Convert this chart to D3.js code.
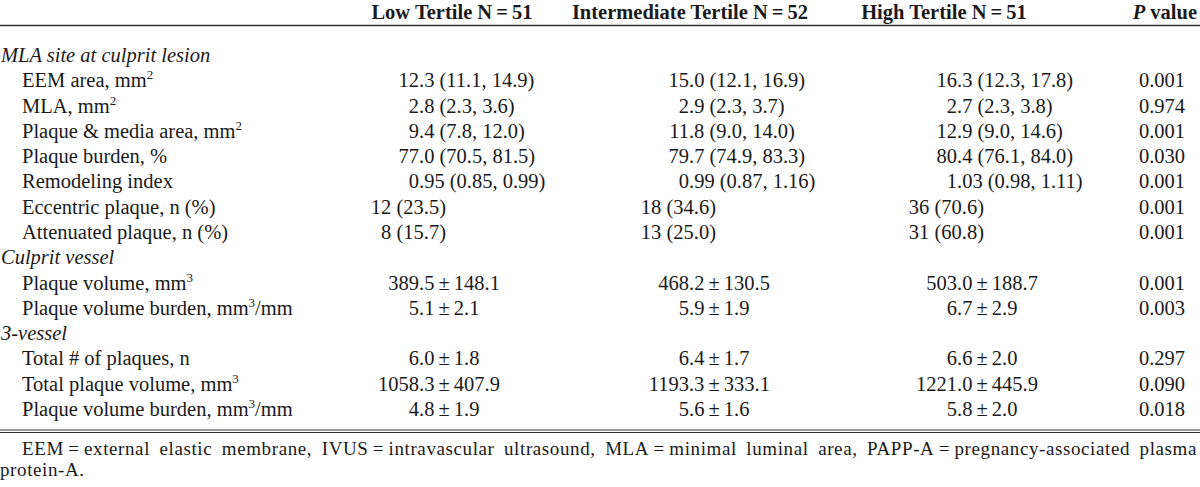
<!DOCTYPE html>
<html>
<head>
<meta charset="utf-8">
<script src="https://cdn.jsdelivr.net/npm/d3@7"></script>
<style>
  html, body { margin: 0; padding: 0; background: #fff; }
  svg { display: block; }
  text { font-family: "Liberation Serif", "Times New Roman", serif; fill: #1a1a1a; }
</style>
</head>
<body>
<div id="table"></div>
<script>
// column headers
const colHeaders = ["Low Tertile N = 51", "Intermediate Tertile N = 52", "High Tertile N = 51"];
const pHeader = "value";

// row labels ("#" prefix = italic section header, ^n = superscript)
const rowLabels = [
  "#MLA site at culprit lesion",
  "EEM area, mm^2",
  "MLA, mm^2",
  "Plaque & media area, mm^2",
  "Plaque burden, %",
  "Remodeling index",
  "Eccentric plaque, n (%)",
  "Attenuated plaque, n (%)",
  "#Culprit vessel",
  "Plaque volume, mm^3",
  "Plaque volume burden, mm^3/mm",
  "#3-vessel",
  "Total # of plaques, n",
  "Total plaque volume, mm^3",
  "Plaque volume burden, mm^3/mm"
];

const lowVals = [null, "12.3 (11.1, 14.9)", "2.8 (2.3, 3.6)", "9.4 (7.8, 12.0)", "77.0 (70.5, 81.5)",
  "0.95 (0.85, 0.99)", "12 (23.5)", "8 (15.7)", null, "389.5 ± 148.1", "5.1 ± 2.1", null,
  "6.0 ± 1.8", "1058.3 ± 407.9", "4.8 ± 1.9"];
const intVals = [null, "15.0 (12.1, 16.9)", "2.9 (2.3, 3.7)", "11.8 (9.0, 14.0)", "79.7 (74.9, 83.3)",
  "0.99 (0.87, 1.16)", "18 (34.6)", "13 (25.0)", null, "468.2 ± 130.5", "5.9 ± 1.9", null,
  "6.4 ± 1.7", "1193.3 ± 333.1", "5.6 ± 1.6"];
const highVals = [null, "16.3 (12.3, 17.8)", "2.7 (2.3, 3.8)", "12.9 (9.0, 14.6)", "80.4 (76.1, 84.0)",
  "1.03 (0.98, 1.11)", "36 (70.6)", "31 (60.8)", null, "503.0 ± 188.7", "6.7 ± 2.9", null,
  "6.6 ± 2.0", "1221.0 ± 445.9", "5.8 ± 2.0"];
const pVals = [null, "0.001", "0.974", "0.001", "0.030", "0.001", "0.001", "0.001", null,
  "0.001", "0.003", null, "0.297", "0.090", "0.018"];

const footnote = [
  "EEM = external elastic membrane, IVUS = intravascular ultrasound, MLA = minimal luminal area, PAPP-A = pregnancy-associated plasma",
  "protein-A."
];

const width = 1200, height = 487;
const fs = 20.5;
const thin = "\u2009";

const svg = d3.select("#table").append("svg")
  .attr("width", width)
  .attr("height", height);

// rows
const y = d3.scalePoint()
  .domain(d3.range(rowLabels.length))
  .range([62, 416]);

// column anchors (decimal point position of first number)
const colX = d3.scaleOrdinal()
  .domain([0, 1, 2])
  .range([419, 689, 957]);
const headX = d3.scaleOrdinal()
  .domain([0, 1, 2])
  .range([452, 690, 944]);
const pX = 1162;

const tidy = s => s.replace(/ ± /g, thin + "±" + thin).replace(/ = /g, thin + "=" + thin);

// header
svg.selectAll(".head")
  .data(colHeaders).enter().append("text")
  .attr("x", (d, i) => headX(i))
  .attr("y", 19)
  .attr("text-anchor", "middle")
  .style("font-size", fs + "px")
  .style("font-weight", "bold")
  .text(d => tidy(d));

const ph = svg.append("text")
  .attr("x", 1197).attr("y", 19)
  .attr("text-anchor", "end")
  .style("font-size", fs + "px")
  .style("font-weight", "bold");
ph.append("tspan").style("font-style", "italic").text("P");
ph.append("tspan").text(" " + pHeader);

// rules
svg.append("line")
  .attr("x1", 0).attr("x2", width)
  .attr("y1", 25.5).attr("y2", 25.5)
  .attr("stroke", "#333").attr("stroke-width", 1.3);
[430, 432.5].forEach(v => {
  svg.append("line")
    .attr("x1", 0).attr("x2", width)
    .attr("y1", v).attr("y2", v)
    .attr("stroke", "#333").attr("stroke-width", 1.2);
});

// labels
rowLabels.forEach((lab, i) => {
  const section = lab.startsWith("#");
  const t = svg.append("text")
    .attr("x", section ? 1 : 22)
    .attr("y", y(i))
    .style("font-size", fs + "px")
    .style("font-style", section ? "italic" : "normal");
  const txt = section ? lab.slice(1) : lab;
  const parts = txt.split(/\^(\d)/);
  let back = 0;
  parts.forEach((p, k) => {
    if (k % 2 === 1) {
      t.append("tspan").attr("dy", -8).style("font-size", "13px").text(p);
      back = 8;
    } else if (p) {
      t.append("tspan").attr("dy", back).text(p);
      back = 0;
    }
  });
});

// values
[lowVals, intVals, highVals].forEach((vals, c) => {
  vals.forEach((v, i) => {
    if (v == null) return;
    const s = tidy(v);
    const t = svg.append("text")
      .attr("y", y(i))
      .style("font-size", fs + "px")
      .text(s);
    if (/^\d+ \(/.test(v)) {
      // counts: right aligned
      t.attr("text-anchor", "end").attr("x", colX(c) + 27);
    } else {
      const dot = s.indexOf(".");
      const off = t.node().getSubStringLength(0, dot);
      t.attr("x", colX(c) - off);
    }
  });
});

// p values
svg.selectAll(".pv")
  .data(pVals.map((d, i) => ({ d, i })).filter(o => o.d != null))
  .enter().append("text")
  .attr("x", pX)
  .attr("y", o => y(o.i))
  .attr("text-anchor", "middle")
  .style("font-size", fs + "px")
  .text(o => o.d);

// footnote, first line justified
const fnText = tidy(footnote[0]);
const fn = svg.append("text")
  .attr("x", 22).attr("y", 455)
  .style("font-size", "19px")
  .style("letter-spacing", "0.6px")
  .text(fnText);
const natural = fn.node().getComputedTextLength();
const spaces = (fnText.match(/ /g) || []).length;
fn.style("word-spacing", Math.max(0, (1197 - 22 - natural) / spaces) + "px");
svg.append("text")
  .attr("x", 0).attr("y", 476)
  .style("font-size", "19px")
  .style("letter-spacing", "0.6px")
  .text(footnote[1]);
</script>
</body>
</html>
